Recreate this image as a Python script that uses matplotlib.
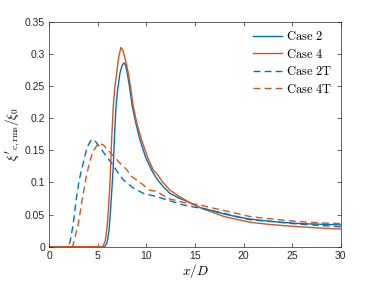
import matplotlib
matplotlib.use("Agg")
import matplotlib.pyplot as plt

plt.rcParams['mathtext.fontset'] = 'cm'
plt.rcParams['font.family'] = ['Liberation Sans', 'DejaVu Sans']

# Case 2 (solid blue)
x_case2 = [0, 5.7, 5.95, 6.15, 6.3, 6.45, 6.59, 6.7, 6.87, 7.04, 7.28, 7.5, 7.69, 7.85,
           8.03, 8.3, 8.55, 8.95, 9.34, 9.9, 10.54, 11.06, 11.7, 12.43, 13.3, 14.3,
           15.5, 16.55, 18.0, 19.5, 20.67, 22.5, 24.0, 25.8, 28.0, 30]
y_case2 = [0, 0, 0.006, 0.025, 0.055, 0.09, 0.125, 0.166, 0.218, 0.244, 0.270, 0.282,
           0.286, 0.283, 0.270, 0.245, 0.218, 0.19, 0.166, 0.14, 0.119, 0.106, 0.094,
           0.083, 0.076, 0.070, 0.061, 0.057, 0.051, 0.046, 0.043, 0.040, 0.038, 0.036,
           0.035, 0.034]

# Case 4 (solid orange)
x_case4 = [0, 5.5, 5.75, 5.95, 6.1, 6.22, 6.32, 6.42, 6.59, 6.75, 6.94, 7.15, 7.38, 7.6,
           7.85, 8.14, 8.4, 8.65, 9.05, 9.51, 10.1, 10.71, 11.06, 11.7, 12.43, 13.3,
           14.3, 15.5, 16.55, 18.0, 19.5, 20.67, 22.5, 24.0, 25.8, 28.0, 30]
y_case4 = [0, 0, 0.008, 0.03, 0.06, 0.09, 0.125, 0.166, 0.218, 0.248, 0.270, 0.295,
           0.310, 0.305, 0.29, 0.270, 0.245, 0.218, 0.19, 0.166, 0.14, 0.119, 0.114,
           0.1, 0.088, 0.079, 0.070, 0.061, 0.055, 0.047, 0.042, 0.038, 0.035, 0.033,
           0.031, 0.029, 0.0275]

# Case 2T (dashed blue)
x_case2T = [0, 2.0, 2.2, 2.47, 2.82, 3.1, 3.33, 3.57, 3.9, 4.36, 4.8, 5.3, 5.9, 6.42,
            7.0, 7.62, 8.6, 9.68, 11.06, 12.09, 13.8, 15.5, 16.55, 18.0, 20.67, 23.0,
            25.8, 28.0, 30]
y_case2T = [0, 0, 0.012, 0.036, 0.078, 0.105, 0.12, 0.135, 0.155, 0.167, 0.163, 0.153,
            0.14, 0.130, 0.117, 0.104, 0.092, 0.083, 0.078, 0.073, 0.065, 0.060, 0.057,
            0.052, 0.042, 0.039, 0.035, 0.033, 0.031]

# Case 4T (dashed orange)
x_case4T = [0, 2.4, 2.6, 3.0, 3.44, 3.8, 4.12, 4.5, 5.05, 5.6, 6.3, 7.28, 7.97, 8.49,
            9.34, 10.37, 11.06, 12.26, 13.8, 15.5, 16.9, 18.95, 20.67, 22.4, 25.8,
            28.0, 30]
y_case4T = [0, 0, 0.012, 0.036, 0.078, 0.108, 0.130, 0.148, 0.161, 0.158, 0.146, 0.130,
            0.120, 0.109, 0.100, 0.088, 0.086, 0.075, 0.069, 0.065, 0.060, 0.053, 0.047,
            0.044, 0.039, 0.037, 0.036]

blue = '#0072BD'
orange = '#D95319'

fig = plt.figure(figsize=(3.76, 2.82), dpi=100)
ax = fig.add_axes([0.131, 0.125, 0.775, 0.798])

lw = 1.0
ax.plot(x_case2, y_case2, color=blue, lw=lw, label=r'$\mathrm{Case\ 2}$')
ax.plot(x_case4, y_case4, color=orange, lw=lw, label=r'$\mathrm{Case\ 4}$')
ax.plot(x_case2T, y_case2T, color=blue, lw=lw, ls=(0, (5, 3)), label=r'$\mathrm{Case\ 2T}$')
ax.plot(x_case4T, y_case4T, color=orange, lw=lw, ls=(0, (5, 3)), label=r'$\mathrm{Case\ 4T}$')

ax.set_xlim(0, 30)
ax.set_ylim(0, 0.35)
ax.set_xticks([0, 5, 10, 15, 20, 25, 30])
ax.set_yticks([0, 0.05, 0.1, 0.15, 0.2, 0.25, 0.3, 0.35])
ax.set_yticklabels(['0', '0.05', '0.1', '0.15', '0.2', '0.25', '0.3', '0.35'])

for s in ax.spines.values():
    s.set_linewidth(0.5)
    s.set_color('0.15')
ax.tick_params(direction='in', length=3, width=0.5, top=True, right=True,
               labelsize=7.5, colors='0.15', pad=3)

ax.set_xlabel(r'$x/D$', fontsize=9.5, labelpad=1)
ax.set_ylabel(r"$\xi'_{c,\mathrm{rms}}/\xi_0$", fontsize=9.5, labelpad=2)

leg = ax.legend(loc='upper right', frameon=False, fontsize=9, handlelength=2.3,
                handletextpad=0.3, labelspacing=0.35, borderaxespad=0.3)

fig.savefig('out.png', dpi=100)
